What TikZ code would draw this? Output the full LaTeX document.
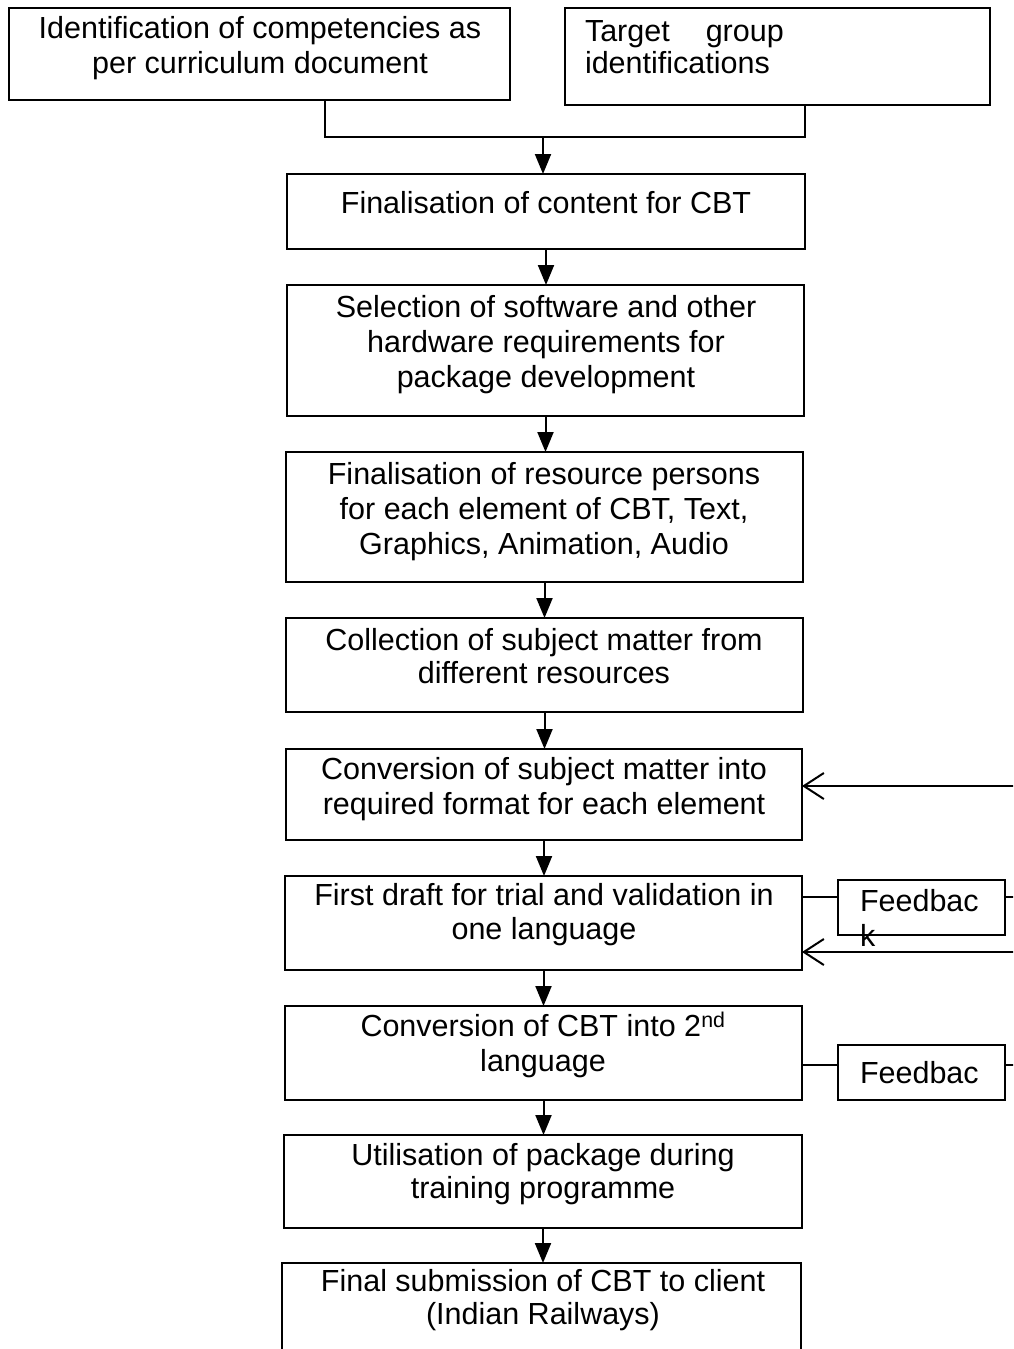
\documentclass[tikz,border=0pt]{standalone}
\usepackage{fontspec}
\setmainfont[Ligatures=NoCommon]{Liberation Sans}
\usetikzlibrary{arrows.meta,fit}
\begin{document}
\begin{tikzpicture}[x=1pt,y=-1pt,
  box/.style={draw,line width=2pt,inner sep=0pt,outer sep=0pt,rectangle},
  txt/.style={inner sep=0pt,outer sep=0pt,align=center,font=\fontsize{30.5}{35}\selectfont},
  ltxt/.style={inner sep=0pt,outer sep=0pt,align=left,anchor=west,font=\fontsize{30.5}{35}\selectfont},
  ln/.style={line width=2pt},
  arr/.style={line width=2pt,-{Triangle[length=20pt,width=16pt]}},
  back/.style={line width=2pt,-{Straight Barb[length=20pt,width=26pt]}}]
\useasboundingbox (0,0) rectangle (1013,1349);
\clip (0,0) rectangle (1013,1349);
\fill[white] (0,0) rectangle (1013,1349);
% boxes
\node[box,fit={(9,8) (510,100)}] (A) {};
\node[box,fit={(565,8) (990,105)}] (B) {};
\node[box,fit={(287,174) (805,249)}] (C) {};
\node[box,fit={(287,285) (804,416)}] (D) {};
\node[box,fit={(286,452) (803,582)}] (E) {};
\node[box,fit={(286,618) (803,712)}] (F) {};
\node[box,fit={(286,749) (802,840)}] (G) {};
\node[box,fit={(285,876) (802,970)}] (H) {};
\node[box,fit={(285,1006) (802,1100)}] (I) {};
\node[box,fit={(284,1135) (802,1228)}] (J) {};
\node[box,fit={(282,1263) (801,1370)}] (K) {};
\node[box,fit={(838,880) (1005,935)}] (FB1) {};
\node[box,fit={(838,1045) (1005,1100)}] (FB2) {};
% texts
\node[txt] (At) at (260,48.5) {Identification of competencies as\\per curriculum document};
\node[ltxt] (Bt) at (585,47) {Target\hspace{36pt}group\\[-3pt]identifications};
\node[txt] (Ct) at (546,203) {Finalisation of content for CBT};
\node[txt] (Dt) at (546,345) {Selection of software and other\\hardware requirements for\\package development};
\node[txt] (Et) at (544,512) {Finalisation of resource persons\\for each element of CBT, Text,\\Graphics, Animation, Audio};
\node[txt] (Ft) at (544,656.5) {Collection of subject matter from\\[-2pt]different resources};
\node[txt] (Gt) at (544,789) {Conversion of subject matter into\\required format for each element};
\node[txt] (Ht) at (544,915) {First draft for trial and validation in\\[-1pt]one language};
\node[txt] (It) at (543,1044.5) {Conversion of CBT into 2\textsuperscript{nd}\\language};
\node[txt] (Jt) at (543,1174.5) {Utilisation of package during\\[-2pt]training programme};
\node[txt] (Kt) at (543,1300.5) {Final submission of CBT to client\\[-2pt](Indian Railways)};
\node[ltxt] (F1t) at (860,917.5) {Feedbac\\k};
\node[ltxt] (F2t) at (860,1073) {Feedbac};
% merge connector
\coordinate (m1) at (325,137);
\coordinate (m2) at (805,137);
\coordinate (mj) at (543,137);
\draw[ln] (A.south -| m1) -- (m1) -- (m2) -- (B.south -| m2);
\draw[arr] (mj) -- (C.north -| mj);
% main arrows
\draw[arr] (C.south) -- (C.south |- D.north);
\draw[arr] (D.south) -- (D.south |- E.north);
\draw[arr] (E.south) -- (E.south |- F.north);
\draw[arr] (F.south) -- (F.south |- G.north);
\draw[arr] (G.south) -- (G.south |- H.north);
\draw[arr] (H.south) -- (H.south |- I.north);
\draw[arr] (I.south) -- (I.south |- J.north);
\draw[arr] (J.south) -- (J.south |- K.north);
% feedback lines
\coordinate (f1) at (1025,897);
\coordinate (f2) at (1025,1065);
\draw[ln] (H.east |- f1) -- (FB1.west |- f1);
\draw[ln] (FB1.east |- f1) -- (f1);
\draw[ln] (I.east |- f2) -- (FB2.west |- f2);
\draw[ln] (FB2.east |- f2) -- (f2);
% return arrows
\coordinate (r1) at (1025,786);
\coordinate (r2) at (1025,952);
\draw[back] (r1) -- (G.east |- r1);
\draw[back] (r2) -- (H.east |- r2);
\end{tikzpicture}
\end{document}
